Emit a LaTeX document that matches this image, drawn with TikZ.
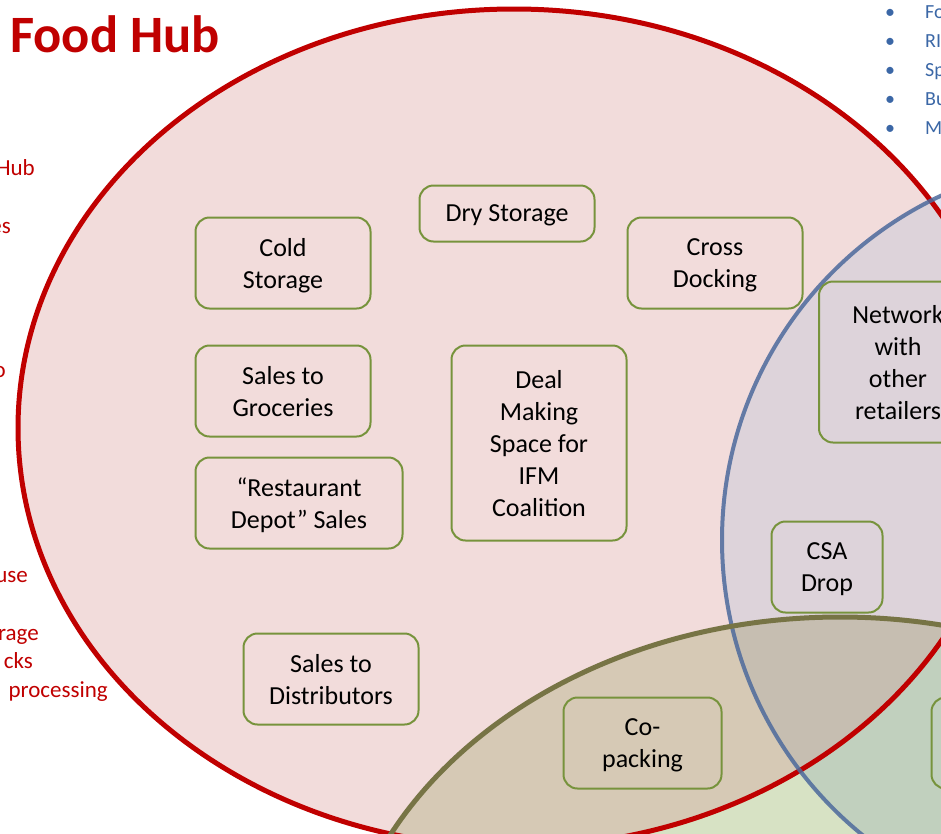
\documentclass[tikz,border=0pt]{standalone}
\usepackage{fontspec}
\setmainfont{Carlito}
\definecolor{hubred}{HTML}{C00000}
\definecolor{pinkfill}{HTML}{F2DCDB}
\definecolor{lavfill}{HTML}{DDD3DA}
\definecolor{blueonly}{HTML}{DCE5F1}
\definecolor{olonly}{HTML}{D7E2C4}
\definecolor{tanfill}{HTML}{D6C9B5}
\definecolor{graytan}{HTML}{C6BEB1}
\definecolor{greengray}{HTML}{C1D0BE}
\definecolor{blueline}{HTML}{4D6A9C}
\definecolor{oliveline}{HTML}{777445}
\definecolor{boxgreen}{HTML}{77933C}
\definecolor{bulletblue}{HTML}{3B67A6}
\tikzset{
  bx/.style={draw=boxgreen, line width=2pt, rounded corners=14pt, align=center,
    inner sep=0pt, text depth=0pt, font=\fontsize{26}{32}\selectfont, text=black},
  frag/.style={text=hubred, font=\fontsize{23}{28}\selectfont, inner sep=0pt},
  bul/.style={text=bulletblue, font=\fontsize{20}{24}\selectfont, inner sep=0pt, anchor=base west}
}
\begin{document}
\begin{tikzpicture}[x=1pt,y=-1pt]
\useasboundingbox (0,0) rectangle (941,833);
\clip (0,0) rectangle (941,833);
% fills
\fill[pinkfill] (514,428) ellipse [x radius=496pt, y radius=419pt];
\fill[blueonly] (1102,540) circle [radius=380pt];
\begin{scope}
  \clip (514,428) ellipse [x radius=496pt, y radius=419pt];
  \fill[lavfill] (1102,540) circle [radius=380pt];
\end{scope}
\fill[olonly] (840,1017) ellipse [x radius=505pt, y radius=400pt];
\begin{scope}
  \clip (840,1017) ellipse [x radius=505pt, y radius=400pt];
  \fill[tanfill] (514,428) ellipse [x radius=496pt, y radius=419pt];
  \fill[greengray] (1102,540) circle [radius=380pt];
  \clip (514,428) ellipse [x radius=496pt, y radius=419pt];
  \fill[graytan] (1102,540) circle [radius=380pt];
\end{scope}
% outlines
\draw[hubred, line width=5pt] (514,428) ellipse [x radius=496pt, y radius=419pt];
\draw[blueline, line width=4pt, draw opacity=0.85] (1102,540) circle [radius=380pt];
\draw[oliveline, line width=5pt] (840,1017) ellipse [x radius=505pt, y radius=400pt];

% title
\node[anchor=base west, text=hubred, inner sep=0pt, font=\fontsize{52.5}{60}\selectfont\bfseries] (title) at (10,52) {Food Hub};

% left fragments
\node[frag, anchor=base east] (f1) at (35,175) {Hub};
\node[frag, anchor=base east] (f2) at (11,233) {es};
\node[frag, anchor=base east] (f3) at (6,377) {o};
\node[frag, anchor=base east] (f4) at (28,582) {use};
\node[frag, anchor=base east] (f5) at (39,640) {rage};
\node[frag, anchor=base east] (f6) at (33,668) {cks};
\node[frag, anchor=base east] (f7) at (108,697) {processing};

% top right bullets
\foreach \t/\yy [count=\i] in {Fo/18, RI/47, Sp/76, Bu/105, M/134}{
  \node[bul] (b\i) at (885,\yy) {•};
  \node[bul] (t\i) at (925,\yy) {\t};
}

% boxes
\node[bx, minimum width=175pt, minimum height=91pt] (cold) at (283,263) {Cold\\Storage};
\node[bx, minimum width=175pt, minimum height=56pt] (dry) at (507,213.5) {Dry Storage};
\node[bx, minimum width=175pt, minimum height=91pt] (cross) at (715,263) {Cross\\Docking};
\node[bx, minimum width=175pt, minimum height=91pt] (groc) at (283,391) {Sales to\\Groceries};
\node[bx, minimum width=207pt, minimum height=91pt] (rest) at (299,503) {“Restaurant\\Depot” Sales};
\node[bx, minimum width=175pt, minimum height=195pt] (deal) at (539,443) {Deal\\Making\\Space for\\IFM\\Coalition};
\node[bx, minimum width=175pt, minimum height=91pt] (dist) at (331,679) {Sales to\\Distributors};
\node[bx, minimum width=158pt, minimum height=161pt] (net) at (898,362) {Network\\with\\other\\retailers};
\node[bx, minimum width=111pt, minimum height=91pt] (csa) at (827,567) {CSA\\Drop};
\node[bx, minimum width=158pt, minimum height=91pt] (copack) at (642.5,743) {Co-\\packing};
\node[bx, minimum width=175pt, minimum height=91pt] (right) at (1019,743) {};
\end{tikzpicture}
\end{document}
